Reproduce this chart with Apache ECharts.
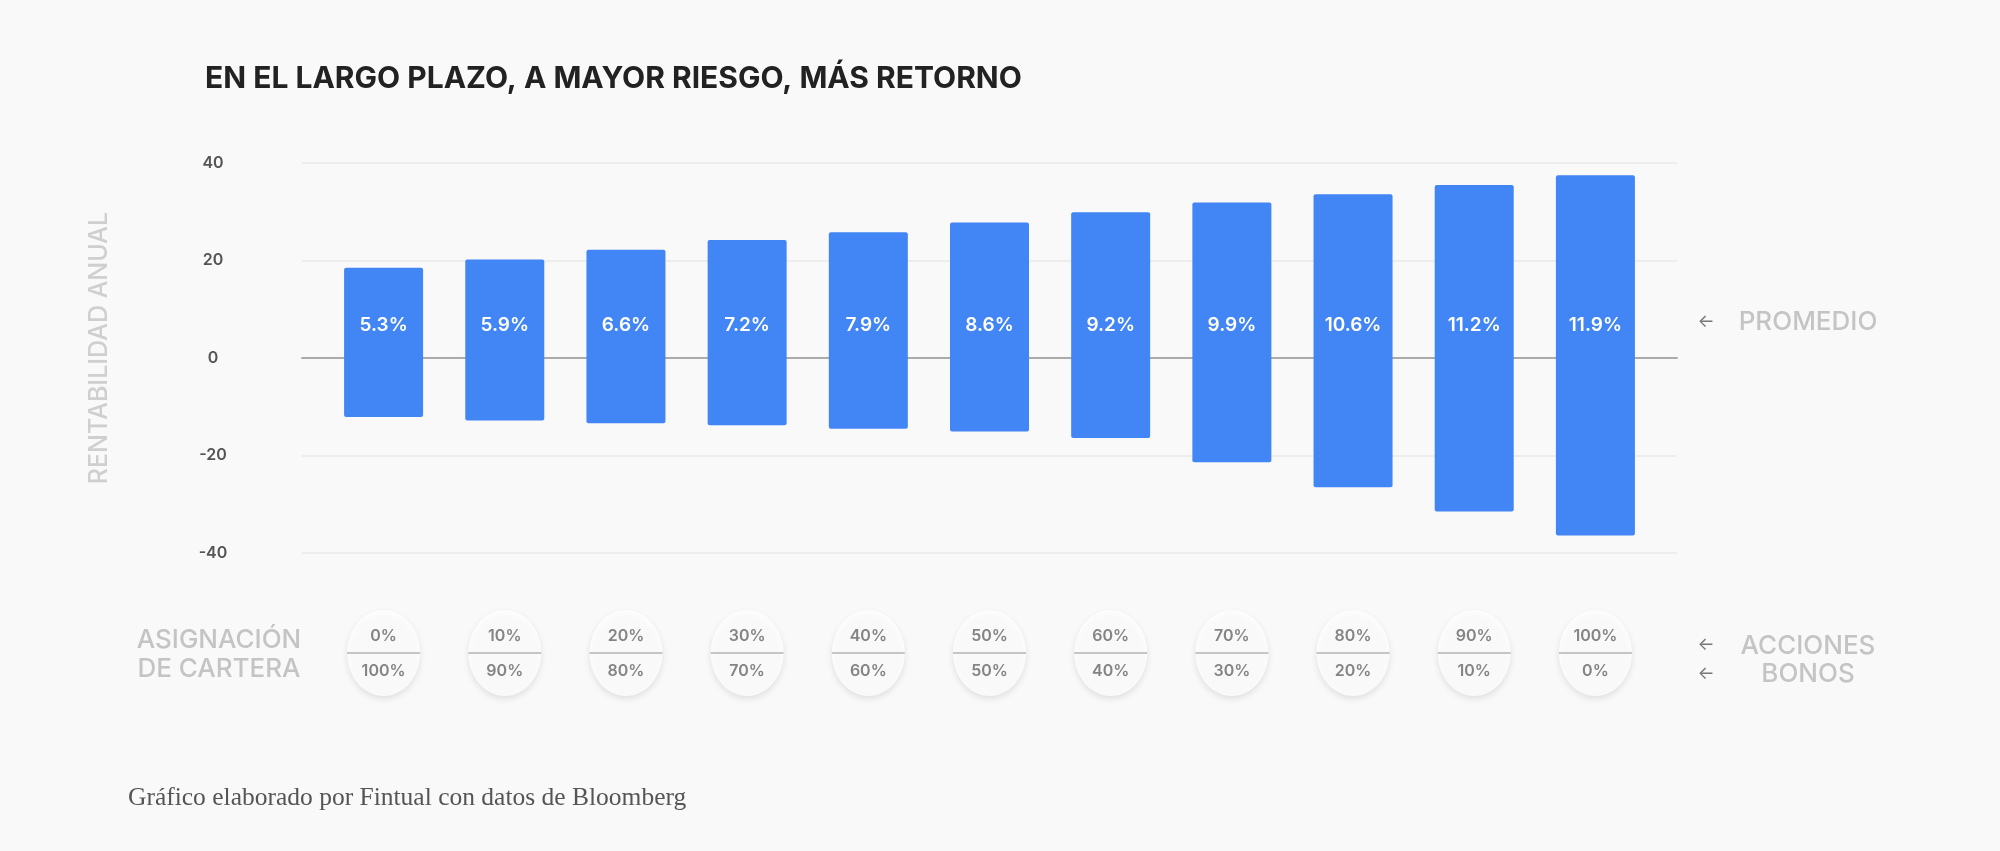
<!DOCTYPE html>
<html>
<head>
<meta charset="utf-8">
<script src="https://cdn.jsdelivr.net/npm/echarts@6/dist/echarts.min.js"></script>
<style>
html,body{margin:0;padding:0;background:#f9f9f9;}
#chart{width:2000px;height:851px;}
</style>
</head>
<body>
<div id="chart"></div>
<script>
const acciones = ['0%','10%','20%','30%','40%','50%','60%','70%','80%','90%','100%'];
const bonos = ['100%','90%','80%','70%','60%','50%','40%','30%','20%','10%','0%'];
const maximos = [18.5, 20.2, 22.2, 24.2, 25.8, 27.8, 29.9, 31.9, 33.6, 35.5, 37.5];
const minimos = [-12.1, -12.8, -13.4, -13.8, -14.5, -15.1, -16.4, -21.4, -26.5, -31.5, -36.4];
const promedios = [5.3, 5.9, 6.6, 7.2, 7.9, 8.6, 9.2, 9.9, 10.6, 11.2, 11.9];
const yTicks = { min: -40, max: 40, interval: 20 };

const blue = '#4285F4';
const greyLabel = '#c4c4c4';
const sans = 'Inter, Roboto, sans-serif';
const ellipse = 'path://M0,50 C0,22.4 22.4,0 50,0 C77.6,0 100,22.4 100,50 C100,77.6 77.6,100 50,100 C22.4,100 0,77.6 0,50 Z';

const chart = echarts.init(document.getElementById('chart'));
chart.setOption({
  backgroundColor: '#f9f9f9',
  animation: false,
  title: [
    {
      text: 'EN EL LARGO PLAZO, A MAYOR RIESGO, MÁS RETORNO',
      left: 200, top: 59,
      textStyle: { fontFamily: sans, fontSize: 30, fontWeight: 700, color: '#222' }
    },
    {
      text: 'Gráfico elaborado por Fintual con datos de Bloomberg',
      left: 123, top: 780,
      textStyle: { fontFamily: '"Liberation Serif", serif', fontSize: 25.5, fontWeight: 400, color: '#555' }
    }
  ],
  grid: [
    { left: 302, right: 323, top: 163, bottom: 298 },
    { left: 323, right: 344, top: 163, bottom: 298 },
    { left: 323, right: 344, top: 596, height: 114 }
  ],
  xAxis: [
    { gridIndex: 0, type: 'value', min: 0, max: 1, show: true,
      axisLine: { show: true, onZero: true, lineStyle: { color: '#ababab', width: 2 } },
      axisTick: { show: false }, axisLabel: { show: false }, splitLine: { show: false } },
    { gridIndex: 1, type: 'category', data: acciones, show: false },
    { gridIndex: 2, type: 'category', data: acciones, show: false }
  ],
  yAxis: [
    { gridIndex: 0, type: 'value', min: yTicks.min, max: yTicks.max, interval: yTicks.interval,
      axisLine: { show: false }, axisTick: { show: false },
      splitLine: { lineStyle: { color: '#e9e9e9', width: 1.5 } },
      axisLabel: { align: 'center', margin: 89, fontFamily: sans, fontSize: 16, fontWeight: 600, color: '#555' } },
    { gridIndex: 1, type: 'value', min: yTicks.min, max: yTicks.max, interval: yTicks.interval, show: false },
    { gridIndex: 2, type: 'value', min: 0, max: 1, show: false }
  ],
  series: [
    {
      type: 'bar', xAxisIndex: 1, yAxisIndex: 1, data: maximos,
      barWidth: 79, itemStyle: { color: blue, borderRadius: [2, 2, 0, 0] },
      label: {
        show: true, position: 'insideBottom', distance: 23,
        formatter: p => promedios[p.dataIndex].toFixed(1) + '%',
        fontFamily: sans, fontSize: 19, fontWeight: 600, color: '#ffffff'
      },
      z: 3
    },
    {
      type: 'bar', xAxisIndex: 1, yAxisIndex: 1, data: minimos,
      barWidth: 79, barGap: '-100%', itemStyle: { color: blue, borderRadius: [0, 0, 2, 2] },
      z: 2
    },
    {
      type: 'scatter', xAxisIndex: 2, yAxisIndex: 2,
      data: acciones.map(() => 0.5),
      symbol: ellipse, symbolSize: [73, 86],
      itemStyle: { color: '#ffffff', shadowColor: 'rgba(0,0,0,0.13)', shadowBlur: 6, shadowOffsetY: 3 },
      label: {
        show: true, position: 'inside', offset: [0, 1],
        formatter: p => '{t|' + acciones[p.dataIndex] + '}\n{b|' + bonos[p.dataIndex] + '}',
        rich: {
          t: { fontFamily: sans, fontSize: 16, fontWeight: 600, color: '#666', lineHeight: 35, align: 'center' },
          b: { fontFamily: sans, fontSize: 16, fontWeight: 600, color: '#666', lineHeight: 35, align: 'center' }
        }
      },
      z: 2, silent: true
    },
    {
      type: 'scatter', xAxisIndex: 2, yAxisIndex: 2,
      data: acciones.map(() => 0.5),
      symbol: 'rect', symbolSize: [73, 2], symbolOffset: [0, 0],
      itemStyle: { color: '#b8b8b8' },
      z: 3, silent: true
    }
  ],
  graphic: [
    { type: 'text', x: 99, y: 348, rotation: Math.PI / 2,
      style: { text: 'RENTABILIDAD ANUAL', align: 'center', verticalAlign: 'middle',
        font: '500 25px ' + sans, fill: '#cfcfcf' } },
    { type: 'text', x: 219, y: 655,
      style: { text: 'ASIGNACIÓN\nDE CARTERA', align: 'center', verticalAlign: 'middle',
        font: '500 26px ' + sans, lineHeight: 29, fill: greyLabel } },
    { type: 'text', x: 1706, y: 322,
      style: { text: '←', align: 'center', verticalAlign: 'middle', font: '18px ' + sans, fill: '#777' } },
    { type: 'text', x: 1808, y: 322,
      style: { text: 'PROMEDIO', align: 'center', verticalAlign: 'middle', font: '500 26px ' + sans, fill: greyLabel } },
    { type: 'text', x: 1706, y: 645,
      style: { text: '←', align: 'center', verticalAlign: 'middle', font: '18px ' + sans, fill: '#777' } },
    { type: 'text', x: 1808, y: 646,
      style: { text: 'ACCIONES', align: 'center', verticalAlign: 'middle', font: '500 26px ' + sans, fill: greyLabel } },
    { type: 'text', x: 1706, y: 674,
      style: { text: '←', align: 'center', verticalAlign: 'middle', font: '18px ' + sans, fill: '#777' } },
    { type: 'text', x: 1808, y: 674,
      style: { text: 'BONOS', align: 'center', verticalAlign: 'middle', font: '500 26px ' + sans, fill: greyLabel } }
  ]
});
</script>
</body>
</html>
